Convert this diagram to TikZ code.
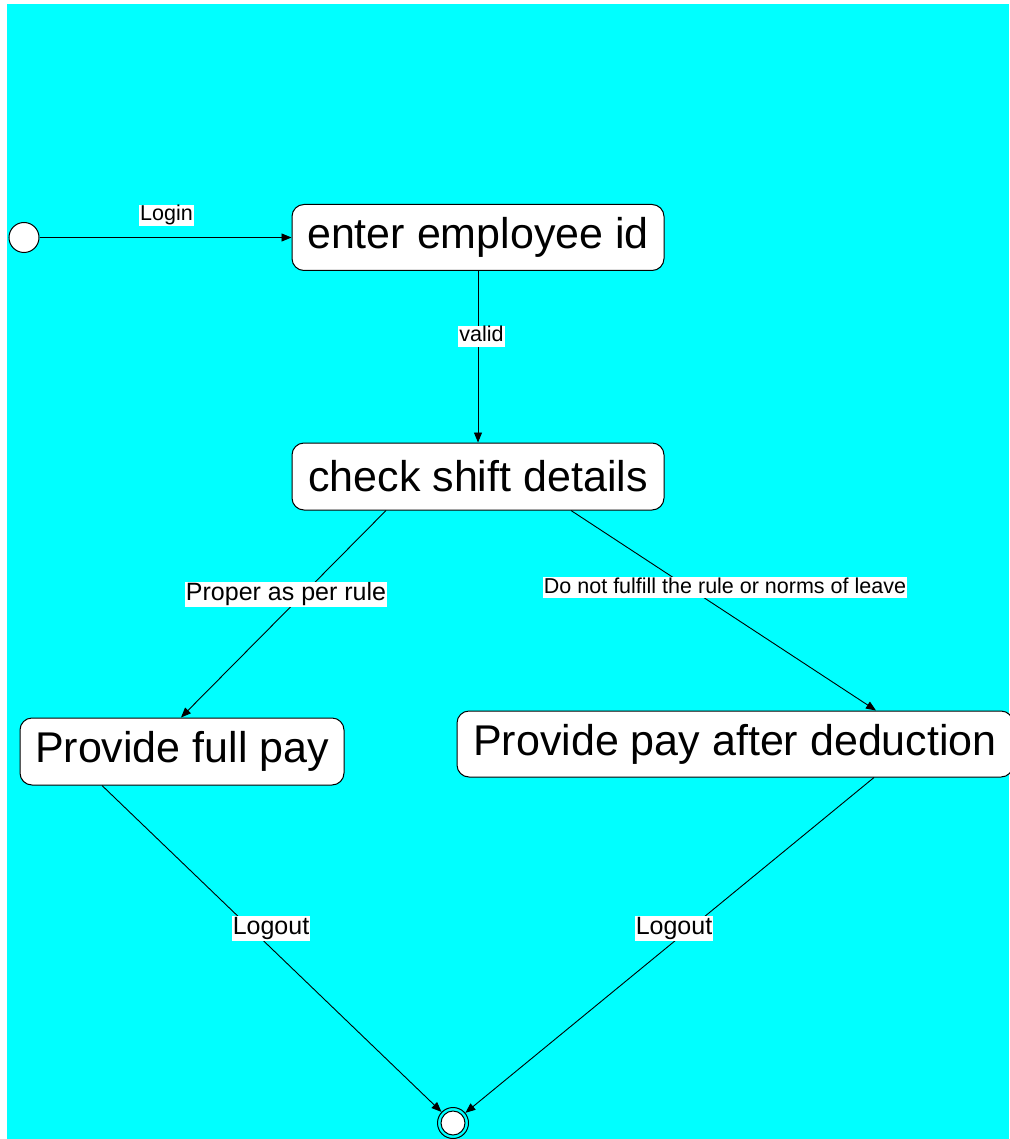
\documentclass[tikz,border=0pt]{standalone}
\usepackage{fontspec}
\setmainfont{Liberation Sans}
\usetikzlibrary{arrows.meta}
\definecolor{bgcyan}{RGB}{0,255,255}
\begin{document}
\begin{tikzpicture}[x=1pt,y=-1pt,
  statebox/.style={draw, fill=white, rounded corners=12pt, line width=1pt, inner sep=0pt,
    font=\fontsize{43}{50}\selectfont},
  lblsmall/.style={fill=white, inner xsep=1pt, inner ysep=0pt, text height=16pt, text depth=5pt,
    font=\fontsize{21.5}{26}\selectfont},
  lblbig/.style={fill=white, inner xsep=1pt, inner ysep=0pt, text height=19pt, text depth=6pt,
    font=\fontsize{25}{30}\selectfont},
  conn/.style={draw, line width=0.9pt, -{Triangle[length=10pt,width=8pt]}}]
\useasboundingbox (0,0) rectangle (1009,1139);
\fill[bgcyan] (7,4) rectangle (1009,1139);
% nodes
\node[draw, circle, fill=white, line width=1pt, minimum size=30pt, inner sep=0pt] (start) at (24,237.5) {};
\node[statebox, minimum width=372pt, minimum height=66pt] (enter) at (478,237.5) {enter employee id};
\node[statebox, minimum width=372pt, minimum height=67pt] (check) at (478,476.5) {check shift details};
\node[statebox, minimum width=324pt, minimum height=67pt] (full) at (182,751.5) {Provide full pay};
\node[statebox, minimum width=556pt, minimum height=66pt] (ded) at (735,744) {Provide pay after deduction};
\node[draw, circle, line width=1pt, minimum size=31pt, inner sep=0pt] (end) at (453,1123) {};
\node[draw, circle, fill=white, line width=1pt, minimum size=24pt, inner sep=0pt] (endin) at (453,1123) {};
% connectors
\draw[conn] (start) -- (enter.west);
\draw[conn] (enter.south) -- (check.north);
\draw[conn] ([xshift=-92pt]check.south) -- ([xshift=-1pt]full.north);
\draw[conn] ([xshift=93pt]check.south) -- ([xshift=141pt]ded.north);
\draw[conn] ([xshift=-80pt]full.south) -- (end);
\draw[conn] ([xshift=139pt]ded.south) -- (end);
% labels
\node[lblsmall] (lLogin) at (166.5,215.5) {Login};
\node[lblsmall] (lValid) at (481.5,336) {valid};
\node[lblbig] (lProper) at (286,594) {Proper as per rule};
\node[lblsmall] (lNot) at (725,587.5) {Do not fulfill the rule or norms of leave};
\node[lblbig] (lOut1) at (271,928) {Logout};
\node[lblbig] (lOut2) at (674,928) {Logout};
\end{tikzpicture}
\end{document}
